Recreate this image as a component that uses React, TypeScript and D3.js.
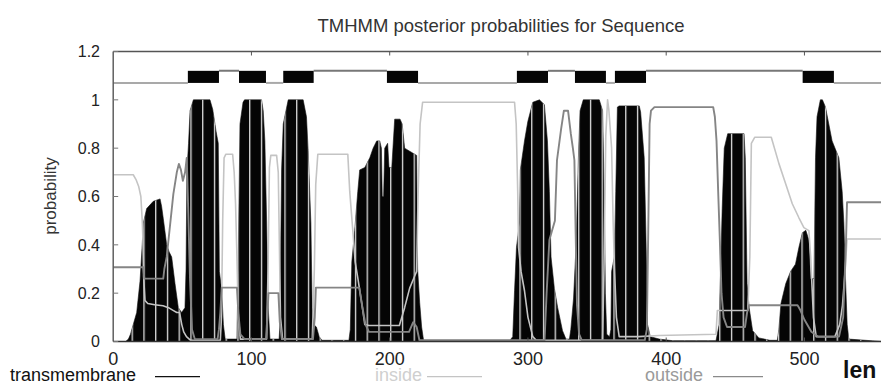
import React from 'react';
import * as d3 from 'd3';

type P = [number, number];

const title = 'TMHMM posterior probabilities for Sequence';
const yAxisLabel = 'probability';
const xAxisLabel = 'len';
const legendLabels = ['transmembrane', 'inside', 'outside'];
const xTicks = [0, 100, 200, 300, 400, 500];
const yTicks = [0, 0.2, 0.4, 0.6, 0.8, 1, 1.2];
const yTickLabels = ['0', '0.2', '0.4', '0.6', '0.8', '1', '1.2'];
const seqLength = 556;

// posterior probability of transmembrane helix (black impulses)
const transmembrane: P[] = [
  [0, 0], [9, 0], [11, 0.01], [12.5, 0.03], [14.5, 0.07], [17, 0.12], [19.4, 0.25], [21, 0.4], [21.8, 0.49],
  [24.2, 0.55], [29, 0.58], [33.9, 0.59], [35, 0.56], [36.2, 0.51], [38.7, 0.4], [40.5, 0.37], [42.3, 0.35],
  [44.7, 0.24], [47.1, 0.14], [49.5, 0.12], [51.9, 0.14], [52.7, 0.3], [53.3, 0.7], [54.5, 0.82], [55.6, 0.955],
  [58, 1.0], [70, 1.0], [72, 0.96], [74.4, 0.87], [76, 0.82], [76.8, 0.29], [78.5, 0.21], [79.7, 0.07], [81, 0.01],
  [89.5, 0.01], [90.5, 0.35], [91.7, 0.9], [93.9, 0.99], [95, 1.0], [107.3, 1.0], [108.5, 0.955], [109.7, 0.83],
  [111, 0.49], [112.1, 0.14], [113.4, 0.01],
  [120, 0.01], [120.6, 0.07], [121.8, 0.71], [123, 0.9], [126.6, 1.0], [137.4, 1.0], [139.8, 0.93], [141, 0.79],
  [143, 0.49], [143.9, 0.14], [145, 0.07], [147, 0.06], [149, 0.02], [151, 0.005],
  [170.5, 0.005], [171.5, 0.05], [172.6, 0.33], [174.7, 0.46], [176.9, 0.62], [178.3, 0.71], [182, 0.72],
  [185.6, 0.76], [188, 0.8], [190.6, 0.83], [192.8, 0.83], [194, 0.8], [194.6, 0.6], [195.6, 0.6], [196.4, 0.8],
  [198.5, 0.82], [199.5, 0.72], [201.5, 0.72], [203.6, 0.92], [207.5, 0.92], [209, 0.9], [210.8, 0.8],
  [216.6, 0.78], [219.5, 0.77], [220.2, 0.3], [221.7, 0.16], [223.1, 0.06], [224.5, 0.005],
  [287, 0.005], [289, 0.02], [290.3, 0.21], [291.7, 0.39], [293.9, 0.49], [294.5, 0.71], [297.5, 0.83],
  [299.9, 0.91], [303.5, 0.99], [308.3, 1.0], [311.9, 0.98], [314.1, 0.83], [315.5, 0.62], [316.7, 0.35],
  [319.1, 0.22], [321.5, 0.14], [325, 0.045], [327.5, 0.01],
  [330, 0.01], [331, 0.05], [333, 0.18], [335, 0.42], [336.5, 0.76], [337.7, 0.955], [340, 1.0], [351.6, 1.0],
  [354, 0.955], [355.2, 0.6], [356, 0.2], [357, 0.03], [359, 0.02],
  [360, 0.05], [360.5, 0.29], [362.5, 0.35], [363.5, 0.62], [364.7, 0.97], [366, 0.975], [380.5, 0.975],
  [381.5, 0.95], [384.1, 0.76], [385.3, 0.45], [386.5, 0.07], [388.5, 0.02], [395, 0.01], [405, 0.003],
  [436, 0.003], [438.3, 0.07], [440.5, 0.55], [442, 0.8], [444.5, 0.86], [456.3, 0.86], [457.2, 0.76],
  [458.5, 0.24], [460, 0.14], [462.5, 0.045], [467, 0.015], [475, 0.005],
  [480.4, 0.005], [481.5, 0.05], [483, 0.157], [486.5, 0.24], [490, 0.29], [493.5, 0.32], [496, 0.39],
  [498.5, 0.45], [501, 0.46], [503.2, 0.42], [504.4, 0.26], [506.9, 0.26], [508, 0.76], [509.1, 0.93],
  [511.5, 1.0], [513, 1.0], [515.2, 0.97], [520, 0.83], [524.9, 0.76], [527.3, 0.62], [528.5, 0.49],
  [529.7, 0.26], [530.9, 0.07], [532.1, 0.01], [556, 0],
];

// posterior probability of inside (light grey line)
const inside: P[] = [
  [0, 0.69], [14.5, 0.69], [16.5, 0.67], [18.5, 0.64], [20, 0.6], [21, 0.5], [21.5, 0.42], [22, 0.27], [23, 0.17],
  [25, 0.157], [30, 0.152], [36, 0.148], [40, 0.14], [43.6, 0.128], [46, 0.12], [48, 0.12], [49.6, 0.07],
  [51, 0.04], [53, 0.02], [56, 0.005],
  [77.5, 0.005], [78.3, 0.1], [79.2, 0.5], [80.2, 0.76], [81.5, 0.775], [86.4, 0.775], [87.5, 0.7], [88.5, 0.57],
  [89.5, 0.35], [90.5, 0.1], [92, 0.01],
  [111, 0.01], [112, 0.3], [113, 0.72], [114, 0.77], [118.2, 0.77], [119.4, 0.7], [120.2, 0.4], [121, 0.1],
  [122.5, 0.01],
  [144, 0.01], [145.5, 0.3], [146.5, 0.65], [148, 0.775], [169.7, 0.775], [171.1, 0.62], [173.3, 0.46],
  [175, 0.33], [177, 0.26], [180, 0.15], [182, 0.07], [185, 0.066], [207, 0.066], [210.8, 0.14], [214.4, 0.22],
  [218, 0.27], [219.5, 0.29], [220.5, 0.6], [222, 0.9], [223.8, 0.99],
  [290.3, 0.99], [291.5, 0.9], [292.6, 0.62], [293.2, 0.39], [295, 0.29], [297.5, 0.21], [300, 0.1],
  [303.5, 0.02], [306, 0.005],
  [354, 0.005], [355, 0.3], [356.3, 0.85], [357.6, 1.0], [358.5, 0.96], [360.5, 0.8], [361.6, 0.5],
  [362.6, 0.3], [364, 0.1], [366, 0.02],
  [380, 0.02], [395, 0.025], [436, 0.03], [437, 0.128], [459, 0.128], [460.5, 0.35], [461.6, 0.82],
  [464, 0.845], [476, 0.845], [481.6, 0.735], [486.4, 0.653], [491.2, 0.57], [496, 0.512], [499.6, 0.471],
  [503.2, 0.459], [504.5, 0.35], [506.5, 0.1], [508.5, 0.02], [522, 0.02], [525.5, 0.07], [527.5, 0.15],
  [529.5, 0.3], [530.8, 0.424], [556, 0.424],
];

// posterior probability of outside (darker grey line)
const outside: P[] = [
  [0, 0.307], [21.8, 0.307], [22.5, 0.26], [36.2, 0.26], [37, 0.3], [38.7, 0.35], [40, 0.42], [43.5, 0.61],
  [46, 0.7], [47.5, 0.735], [49, 0.71], [50.4, 0.665], [52, 0.7], [53.2, 0.76], [54, 0.6], [55.6, 0.25],
  [57, 0.05], [59, 0.01],
  [75.5, 0.01], [76.5, 0.05], [77.5, 0.12], [78.5, 0.223], [89.5, 0.223], [90.5, 0.12], [92, 0.03], [95, 0.01],
  [110.5, 0.01], [111.5, 0.1], [112.3, 0.2], [119.5, 0.2], [120.5, 0.08], [122, 0.01],
  [144.5, 0.01], [145.8, 0.1], [146.6, 0.223], [178, 0.223], [180, 0.15], [182.5, 0.07], [185, 0.04],
  [214, 0.04], [217, 0.08], [219.5, 0.06], [221.5, 0.005],
  [312, 0.005], [313.5, 0.2], [315.5, 0.42], [317.5, 0.46], [319.5, 0.5], [321, 0.75], [324, 0.88],
  [326, 0.955], [329, 0.955], [331, 0.86], [332.5, 0.8], [333.6, 0.75], [334.5, 0.45], [335.5, 0.15],
  [337, 0.03], [339, 0.005],
  [384.5, 0.005], [386, 0.05], [387, 0.45], [388, 0.9], [389, 0.955], [391.5, 0.97], [434, 0.97],
  [435.2, 0.93], [436.4, 0.83], [437.6, 0.62], [438.8, 0.42], [440, 0.2], [441.5, 0.1], [444, 0.06],
  [457, 0.06], [458.5, 0.12], [460, 0.15], [495, 0.15], [497, 0.13], [500, 0.09], [505, 0.04], [510, 0.02],
  [525, 0.02], [528, 0.1], [530, 0.4], [530.8, 0.576], [556, 0.576],
];

// predicted topology (top bar)
const tmRegions: P[] = [[54, 76.5], [91, 110.5], [123, 145], [198, 220.5], [292, 314.5], [334, 356.4], [362.9, 385.4], [498.7, 521.3]];
const insideTopo: P[] = [[0, 54], [110.5, 123], [220.5, 292], [356.4, 362.9], [521.3, 556]];
const outsideTopo: P[] = [[76.5, 91], [145, 198], [314.5, 334], [385.4, 498.7]];
const topoLevels = { inside: 1.07, outside: 1.12 };

const FONT = '"Liberation Sans", Arial, Helvetica, sans-serif';

export default function App() {
  const W = 881;
  const H = 382;
  const x = d3.scaleLinear().domain([0, 500]).range([113.2, 804.45]);
  const y = d3.scaleLinear().domain([0, 1.2]).range([341.5, 51.5]);
  const x0 = x(0);

  const area = d3.area<P>().x(d => x(d[0])).y0(y(0)).y1(d => y(d[1]));
  const line = d3.line<P>().x(d => x(d[0])).y(d => y(d[1]));
  const tmPath = area(transmembrane) || '';
  const stripeStep = x(8.5) - x(0);

  const colIn = '#c4c4c4';
  const colOut = '#858585';
  const legendY = 381;

  return (
    <svg width={W} height={H} style={{ position: 'absolute', left: 0, top: 0, background: '#fff' }} fontFamily={FONT}>
      <defs>
        <pattern id="stripes" patternUnits="userSpaceOnUse" x={x(21.8)} y={0} width={stripeStep} height={H}>
          <rect x={0} y={0} width={1.3} height={H} fill="#dedede" />
        </pattern>
        <clipPath id="plotClip">
          <rect x={x0} y={0} width={W - x0} height={H} />
        </clipPath>
      </defs>
      <rect x={0} y={0} width={W} height={H} fill="#fff" />

      <text x={501} y={31.7} fontSize={18.5} fill="#333" textAnchor="middle">{title}</text>

      <g clipPath="url(#plotClip)">
        <path d={tmPath} fill="#050505" stroke="#111" strokeWidth={0.6} />
        <path d={tmPath} fill="url(#stripes)" />
        <path d={line(inside) || ''} fill="none" stroke={colIn} strokeWidth={1.6} strokeLinejoin="round" />
        <path d={line(outside) || ''} fill="none" stroke={colOut} strokeWidth={1.9} strokeLinejoin="round" />

        {insideTopo.map((s, i) => (
          <line key={'ti' + i} x1={x(s[0])} x2={x(s[1])} y1={y(topoLevels.inside)} y2={y(topoLevels.inside)} stroke="#a9a9a9" strokeWidth={2} />
        ))}
        {outsideTopo.map((s, i) => (
          <line key={'to' + i} x1={x(s[0])} x2={x(s[1])} y1={y(topoLevels.outside)} y2={y(topoLevels.outside)} stroke="#777" strokeWidth={2} />
        ))}
        {tmRegions.map((s, i) => (
          <rect key={'tm' + i} x={x(s[0])} y={y(topoLevels.outside)} width={x(s[1]) - x(s[0])} height={y(topoLevels.inside) - y(topoLevels.outside)} fill="#050505" />
        ))}
      </g>

      {/* frame */}
      <line x1={x0} x2={W} y1={y(1.2)} y2={y(1.2)} stroke="#555" strokeWidth={1.6} />
      <line x1={x0} x2={x0} y1={y(1.2)} y2={y(0)} stroke="#555" strokeWidth={1.4} />
      <line x1={x0} x2={W} y1={y(0)} y2={y(0)} stroke="#333" strokeWidth={1.6} />

      {yTicks.map((t, i) => (
        <g key={'yt' + i}>
          <line x1={x0} x2={x0 + 5} y1={y(t)} y2={y(t)} stroke="#777" strokeWidth={1} />
          <text x={100} y={y(t) + 5.8} fontSize={16} fill="#222" textAnchor="end">{yTickLabels[i]}</text>
        </g>
      ))}
      {xTicks.map((t, i) => (
        <g key={'xt' + i}>
          {t > 0 && <line x1={x(t)} x2={x(t)} y1={y(1.2)} y2={y(1.2) + 4} stroke="#555" strokeWidth={1} />}
          {t > 0 && <line x1={x(t)} x2={x(t)} y1={y(0)} y2={y(0) - 4} stroke="#555" strokeWidth={1} />}
          <text x={x(t)} y={365} fontSize={18} fill="#222" textAnchor="middle">{t}</text>
        </g>
      ))}

      <text transform="translate(56,196) rotate(-90)" fontSize={17} fill="#333" textAnchor="middle">{yAxisLabel}</text>
      <text x={843} y={378.3} fontSize={23} fontWeight="bold" fill="#111">{xAxisLabel}</text>

      {/* legend */}
      <text x={10} y={legendY} fontSize={18} fill="#111">{legendLabels[0]}</text>
      <line x1={155} x2={200} y1={376.7} y2={376.7} stroke="#111" strokeWidth={1.2} />
      <text x={375} y={legendY} fontSize={18} fill="#cfcfcf">{legendLabels[1]}</text>
      <line x1={427} x2={482} y1={376.7} y2={376.7} stroke={colIn} strokeWidth={1.2} />
      <text x={645} y={legendY} fontSize={18} fill="#9a9a9a">{legendLabels[2]}</text>
      <line x1={713} x2={763} y1={376.7} y2={376.7} stroke="#8a8a8a" strokeWidth={1.2} />
    </svg>
  );
}
